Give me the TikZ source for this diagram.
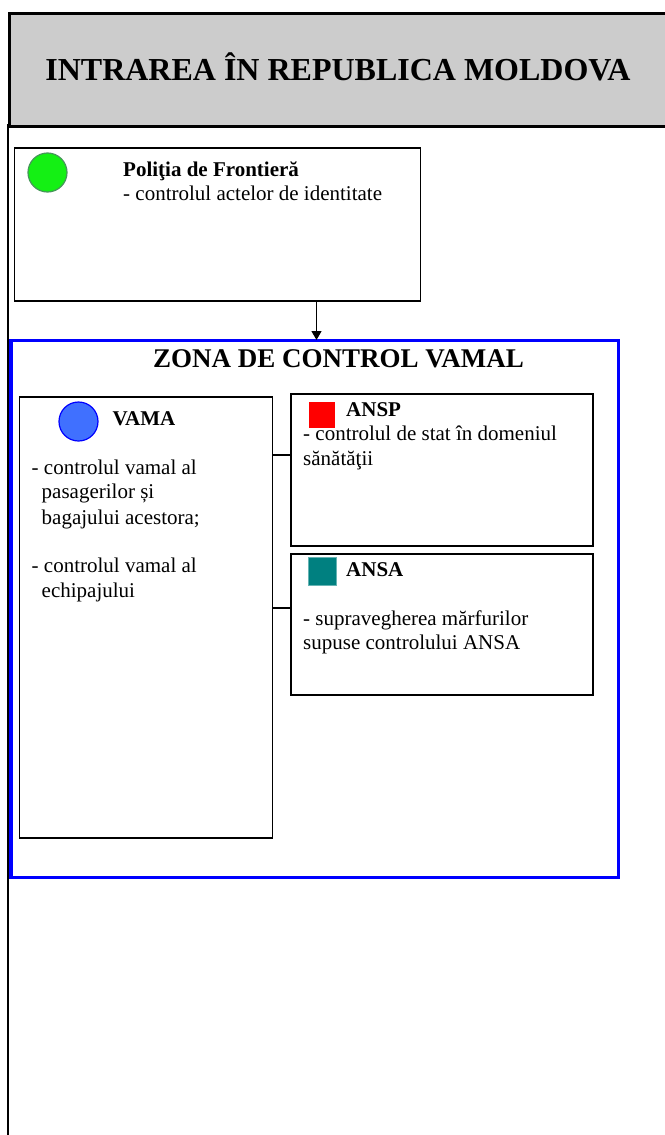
\documentclass[tikz,border=0pt]{standalone}
\usepackage{fontspec}
\setmainfont{Liberation Serif}
\usetikzlibrary{arrows.meta}
\definecolor{hdrgray}{RGB}{204,204,204}
\definecolor{zoneblue}{RGB}{0,0,255}
\definecolor{dotgreen}{RGB}{20,240,20}
\definecolor{dotgreenb}{RGB}{70,150,90}
\definecolor{dotblue}{RGB}{64,112,255}
\definecolor{sqred}{RGB}{255,0,0}
\definecolor{sqteal}{RGB}{0,128,128}
\tikzset{
  orgbox/.style={draw=black, line width=1.8pt, fill=white, rectangle, inner sep=0pt, anchor=north west},
  bodytxt/.style={anchor=base west, inner sep=0pt, font=\fontsize{21}{25}\selectfont},
  headtxt/.style={anchor=base west, inner sep=0pt, font=\fontsize{21}{25}\selectfont\bfseries},
  link/.style={draw=black, line width=1.5pt},
}
\begin{document}
\begin{tikzpicture}[x=1pt,y=-1pt]
\useasboundingbox (0,0) rectangle (664,1135);
% header
\node[draw=black, line width=3pt, fill=hdrgray, rectangle, inner sep=0pt, anchor=north west,
      minimum width=665pt, minimum height=113pt] (hdr) at (7.5,11.5) {};
\node[anchor=base, inner sep=0pt, font=\fontsize{32}{36}\selectfont\bfseries] (title) at (338,80) {INTRAREA ÎN REPUBLICA MOLDOVA};
% left vertical line
\coordinate (lt) at (8,124);
\coordinate (lb) at (8,1135);
\draw[line width=1.8pt] (lt) -- (lb);
% Politia de Frontiera
\node[orgbox, minimum width=406pt, minimum height=153pt] (pf) at (13.5,147) {};
\node[circle, draw=dotgreenb, line width=1.2pt, fill=dotgreen, minimum size=39pt, inner sep=0pt] (pfdot) at (47.5,172.5) {};
\node[headtxt] (pft) at (123,176) {Poliţia de Frontieră};
\node[bodytxt] (pfd) at (123,200) {- controlul actelor de identitate};
% zone
\node[draw=zoneblue, line width=3.5pt, rectangle, inner sep=0pt, anchor=north west,
      minimum width=607.5pt, minimum height=537pt] (zona) at (9,338.5) {};
\node[anchor=base, inner sep=0pt, font=\fontsize{27}{31}\selectfont\bfseries] (zonat) at (338.5,367) {ZONA DE CONTROL VAMAL};
% arrow
\coordinate (ax) at (316.5,0);
\draw[line width=1.3pt, -{Triangle[length=9pt,width=10pt]}] (pf.south -| ax) -- ([yshift=-1.5pt]zona.north -| ax);
% VAMA
\node[orgbox, minimum width=253pt, minimum height=441pt] (vama) at (18.5,396) {};
\node[circle, draw=zoneblue, line width=1.2pt, fill=dotblue, minimum size=39pt, inner sep=0pt] (vamadot) at (78.5,421.5) {};
\node[headtxt] (vamat) at (112.5,425.5) {VAMA};
\node[bodytxt] (v1) at (31.5,474) {- controlul vamal al};
\node[bodytxt] (v2) at (41.5,498.5) {pasagerilor și};
\node[bodytxt] (v3) at (41.5,524) {bagajului acestora;};
\node[bodytxt] (v4) at (31.5,572) {- controlul vamal al};
\node[bodytxt] (v5) at (41.5,597) {echipajului};
% ANSP
\node[orgbox, minimum width=302pt, minimum height=152pt] (ansp) at (290,393) {};
\node[rectangle, fill=sqred, minimum size=26pt, inner sep=0pt, anchor=north west] (anspsq) at (309,402) {};
\node[headtxt] (anspt) at (346,416) {ANSP};
\node[bodytxt] (ansp1) at (303,440) {- controlul de stat în domeniul};
\node[bodytxt] (ansp2) at (303,465) {sănătăţii};
% ANSA
\node[orgbox, minimum width=302pt, minimum height=141pt] (ansa) at (290,553) {};
\node[rectangle, fill=sqteal, draw=sqteal!60, line width=0.6pt, minimum size=28pt, inner sep=0pt, anchor=north west] (ansasq) at (307.5,557) {};
\node[headtxt] (ansat) at (346,576) {ANSA};
\node[bodytxt] (ansa1) at (303,625) {- supravegherea mărfurilor};
\node[bodytxt] (ansa2) at (303,649.5) {supuse controlului ANSA};
% links
\coordinate (l1) at (0,455);
\coordinate (l2) at (0,608);
\draw[link] (vama.east |- l1) -- (ansp.west |- l1);
\draw[link] (vama.east |- l2) -- (ansa.west |- l2);
\end{tikzpicture}
\end{document}
